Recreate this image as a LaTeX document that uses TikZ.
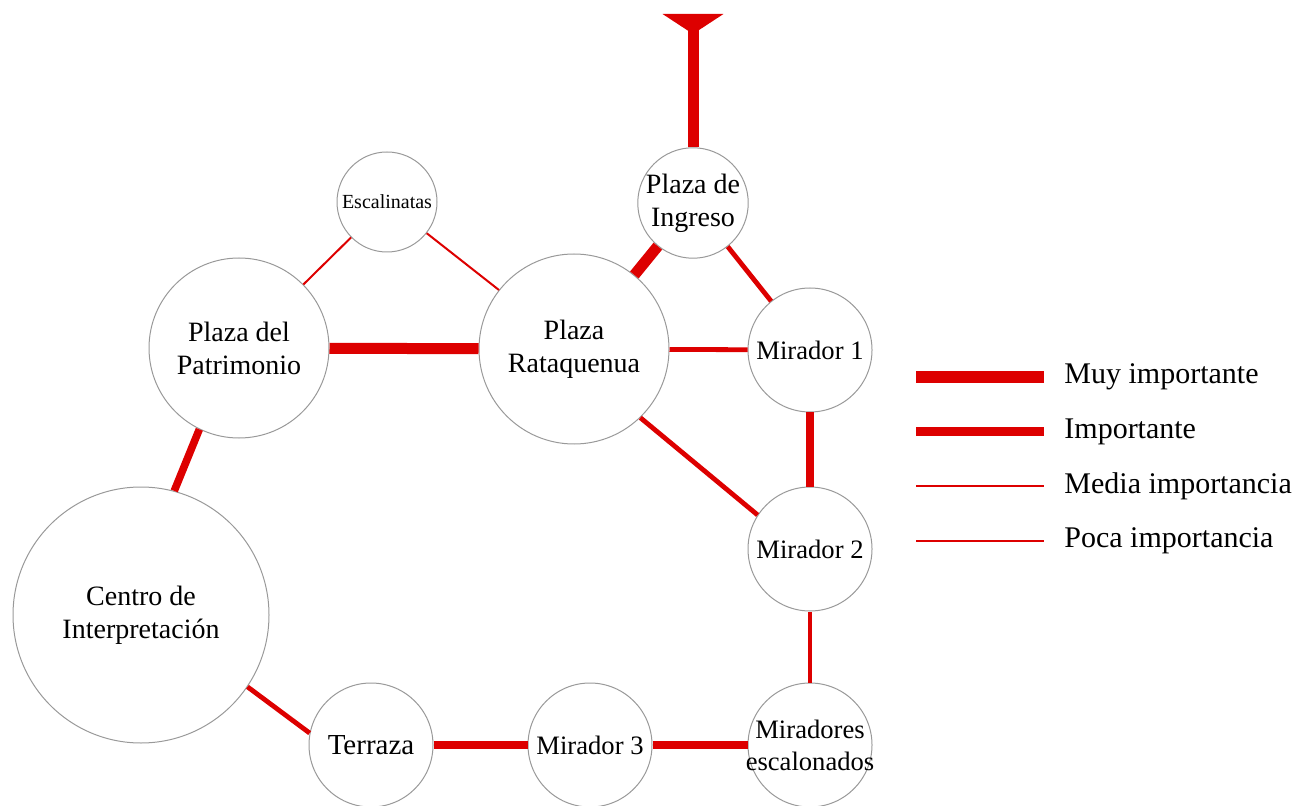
\documentclass[tikz,border=0pt]{standalone}
\usepackage{fontspec}
\setmainfont{Liberation Serif}
\usetikzlibrary{arrows.meta}
\definecolor{ruta}{RGB}{221,0,0}

\begin{document}
\begin{tikzpicture}[x=0.5pt, y=-0.5pt,
	lugar/.style={circle, draw=gray!80, line width=0.5pt, inner sep=0pt,
		align=center, font=\fontsize{14}{16.5}\selectfont},
	mirador/.style={lugar, minimum size=62pt, font=\fontsize{13.3}{16}\selectfont},
	muy/.style={draw=ruta, line width=5.5pt},
	imp/.style={draw=ruta, line width=3.8pt},
	media/.style={draw=ruta, line width=2.4pt},
	poca/.style={draw=ruta, line width=1pt},
	leyenda/.style={anchor=west, inner sep=0pt, font=\fontsize{15}{18}\selectfont}]
	\useasboundingbox (0,0) rectangle (1299,806);

	% Espacios
	\node[lugar, minimum size=50pt, font=\fontsize{10}{12}\selectfont] (esc) at (387,202) {Escalinatas};
	\node[lugar, minimum size=51pt] (ing) at (693,203) {Plaza de\\Ingreso};
	\node[lugar, minimum size=90pt] (pat) at (239,348) {Plaza del\\Patrimonio};
	\node[lugar, minimum size=95pt] (rat) at (574,349) {Plaza\\Rataquenua};
	\node[mirador] (mir1) at (810,350) {Mirador 1};
	\node[mirador] (mir2) at (810,549) {Mirador 2};
	\node[lugar, minimum size=128pt] (cen) at (141,615) {Centro de\\Interpretaci\'on};
	\node[lugar, minimum size=62pt, font=\fontsize{14.5}{17}\selectfont] (ter) at (371,745) {Terraza};
	\node[mirador] (mir3) at (590,745) {Mirador 3};
	\node[mirador, inner sep=-5pt] (mesc) at (810,745) {Miradores\\escalonados};

	% Acceso
	\coordinate (acceso) at (693,14);
	\draw[muy, -{Triangle[reversed, width=30pt, length=10pt]}] (ing) -- (acceso);

	% Conexiones
	\draw[muy] (pat) -- (rat);
	\draw[muy] (ing) -- (rat);
	\draw[imp] (pat.-116) -- (cen.75);
	\draw[imp] (mir1) -- (mir2);
	\draw[imp] (ter) -- (mir3);
	\draw[imp] (mir3) -- (mesc);
	\draw[media] (rat) -- (mir1);
	\draw[media] (ing) -- (mir1);
	\draw[media] (rat.-46) -- (mir2.147);
	\draw[media] (cen.-34) -- (ter.169);
	\draw[media, line width=2pt] (mir2) -- (mesc);
	\draw[poca] (esc) -- (pat);
	\draw[poca] (esc) -- (rat);

	% Leyenda
	\node[leyenda] (lmuy) at (1064,377) {Muy importante};
	\node[leyenda] (limp) at (1064,432) {Importante};
	\node[leyenda] (lmed) at (1064,486) {Media importancia};
	\node[leyenda] (lpoc) at (1064,541) {Poca importancia};
	\draw[muy, line width=6pt] ([xshift=-74pt]lmuy.west) -- ([xshift=-10pt]lmuy.west);
	\draw[imp, line width=4.5pt] ([xshift=-74pt]limp.west) -- ([xshift=-10pt]limp.west);
	\draw[media, line width=1.3pt] ([xshift=-74pt]lmed.west) -- ([xshift=-10pt]lmed.west);
	\draw[poca] ([xshift=-74pt]lpoc.west) -- ([xshift=-10pt]lpoc.west);
\end{tikzpicture}
\end{document}
